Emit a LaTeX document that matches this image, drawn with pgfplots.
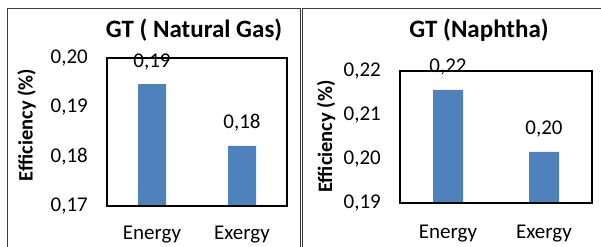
\documentclass[border=0pt]{standalone}
\usepackage{pgfplots}
\pgfplotsset{compat=1.18}
\usepackage{fontspec}
\setmainfont{Carlito}
\definecolor{barblue}{HTML}{4F81BD}
\definecolor{framegray}{HTML}{3A3A3A}
\pgfplotsset{
  gtbar/.style={
    scale only axis,
    ybar,
    bar shift=0pt,
    xmin=-0.5, xmax=1.5,
    xtick={0,1},
    xticklabels={Energy,Exergy},
    major tick length=0pt,
    axis line style={black, line width=1.2pt},
    tick label style={font=\fontsize{21}{24}\selectfont},
    yticklabel style={anchor=east, inner sep=0pt, xshift=-19pt},
    /pgf/number format/.cd, use comma, fixed, fixed zerofill, precision=2, assume math mode=true,
    /pgfplots/.cd,
    nodes near coords,
    every node near coord/.append style={font=\fontsize{21}{24}\selectfont, black, anchor=base, inner sep=0pt, yshift=17pt},
    clip=false,
  }
}
\begin{document}
\begin{tikzpicture}
\path[use as bounding box] (0pt,0pt) rectangle (601pt,246pt);
\clip (0pt,0pt) rectangle (601pt,246pt);
\draw[framegray, line width=1pt] (7pt,-20pt) -- (7pt,237pt) -- (300pt,237pt) -- (300pt,-20pt);
\draw[framegray, line width=1pt] (302.5pt,-20pt) -- (302.5pt,237pt) -- (640pt,237pt);

\node[anchor=base, font=\fontsize{25}{30}\selectfont\bfseries] at (194pt,208pt) {GT ( Natural Gas)};
\node[anchor=base, rotate=90, font=\fontsize{20.5}{24}\selectfont\bfseries] at (32.5pt,121pt) {Efficiency (\%)};

\begin{axis}[gtbar, at={(107pt,40pt)}, anchor=south west, width=180pt, height=148pt,
  ymin=0.17, ymax=0.20, ytick={0.17,0.18,0.19,0.20}, bar width=28pt,
  xticklabel style={anchor=base, inner sep=0pt, yshift=-33pt}]
\addplot[fill=barblue, draw=none] coordinates {(0,0.1947) (1,0.1822)};
\draw[black, line width=2.2pt] (rel axis cs:0,0) -- (rel axis cs:1,0);
\end{axis}

\node[anchor=base, font=\fontsize{25}{30}\selectfont\bfseries] at (479pt,208pt) {GT (Naphtha)};
\node[anchor=base, rotate=90, font=\fontsize{20.5}{24}\selectfont\bfseries] at (332pt,109.5pt) {Efficiency (\%)};

\begin{axis}[gtbar, at={(400pt,43pt)}, anchor=south west, width=192pt, height=132pt,
  ymin=0.19, ymax=0.22, ytick={0.19,0.20,0.21,0.22}, bar width=30pt,
  xticklabel style={anchor=base, inner sep=0pt, yshift=-35pt}]
\addplot[fill=barblue, draw=none] coordinates {(0,0.2157) (1,0.2016)};
\draw[black, line width=2.2pt] (rel axis cs:0,0) -- (rel axis cs:1,0);
\end{axis}
\end{tikzpicture}
\end{document}
